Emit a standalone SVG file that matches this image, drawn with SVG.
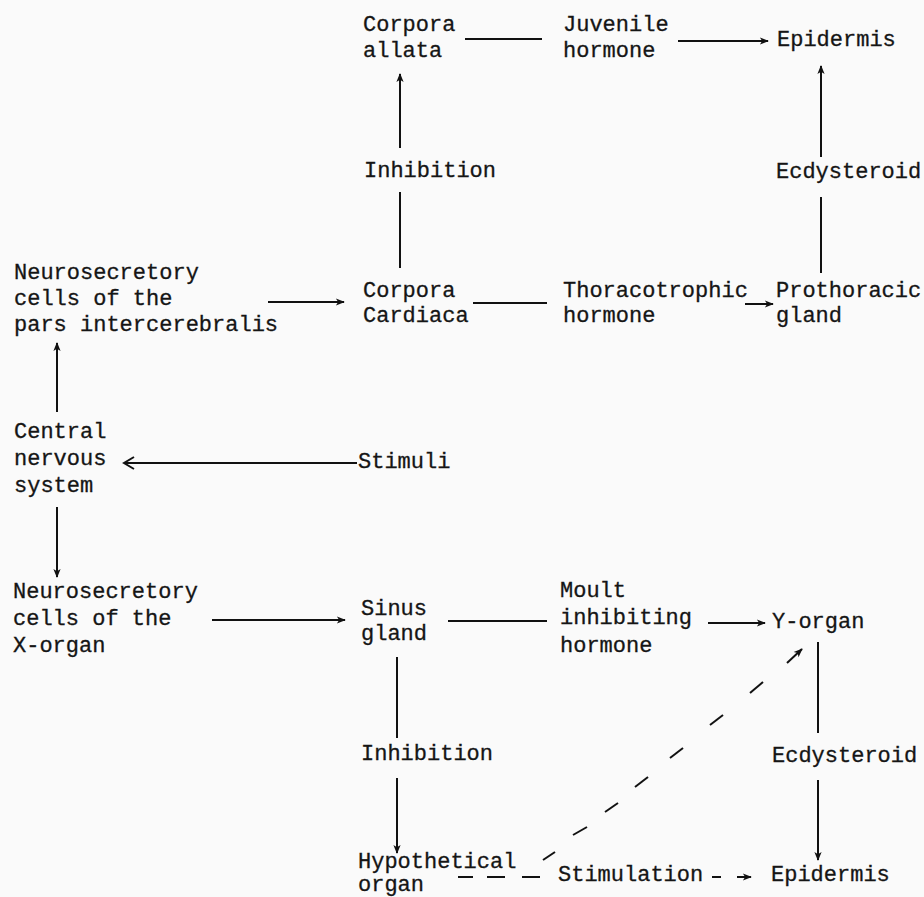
<svg xmlns="http://www.w3.org/2000/svg" width="924" height="897" viewBox="0 0 924 897">
<defs>
<marker id="ah" viewBox="0 0 10 10" refX="9" refY="5" markerWidth="10" markerHeight="9" markerUnits="userSpaceOnUse" orient="auto">
<path d="M0,1 L10,5 L0,9 L2.5,5 Z" fill="#111"/>
</marker>
<marker id="open" viewBox="0 0 14 14" refX="12" refY="7" markerWidth="14" markerHeight="14" markerUnits="userSpaceOnUse" orient="auto">
<path d="M2,1 L12,7 L2,13" fill="none" stroke="#111" stroke-width="2"/>
</marker>
</defs>
<style>
text{font-family:"Liberation Mono","DejaVu Sans Mono",monospace;font-size:22px;fill:#151515;stroke:#151515;stroke-width:0.3}
.c line,.c path{stroke:#111;stroke-width:2;fill:none}
</style>
<rect width="924" height="897" fill="#fafafa"/>
<g id="corpora-allata"><text x="363" y="31">Corpora</text><text x="363" y="57">allata</text></g>
<g id="juvenile-hormone"><text x="563" y="31">Juvenile</text><text x="563" y="57">hormone</text></g>
<g id="epidermis-top"><text x="777" y="46">Epidermis</text></g>
<g id="inhibition-top"><text x="364" y="177">Inhibition</text></g>
<g id="ecdysteroid-top"><text x="776" y="178">Ecdysteroid</text></g>
<g id="neurosecretory-pi"><text x="14" y="279">Neurosecretory</text><text x="14" y="305">cells of the</text><text x="14" y="331">pars intercerebralis</text></g>
<g id="corpora-cardiaca"><text x="363" y="297">Corpora</text><text x="363" y="322">Cardiaca</text></g>
<g id="thoracotrophic-hormone"><text x="563" y="297">Thoracotrophic</text><text x="563" y="322">hormone</text></g>
<g id="prothoracic-gland"><text x="776" y="297">Prothoracic</text><text x="776" y="322">gland</text></g>
<g id="cns"><text x="14" y="438">Central</text><text x="14" y="465">nervous</text><text x="14" y="492">system</text></g>
<g id="stimuli"><text x="358" y="468">Stimuli</text></g>
<g id="neurosecretory-x"><text x="13" y="598">Neurosecretory</text><text x="13" y="625">cells of the</text><text x="13" y="652">X-organ</text></g>
<g id="sinus-gland"><text x="361" y="615">Sinus</text><text x="361" y="640">gland</text></g>
<g id="moult-inhibiting-hormone"><text x="560" y="597">Moult</text><text x="560" y="624">inhibiting</text><text x="560" y="652">hormone</text></g>
<g id="y-organ"><text x="772" y="628">Y-organ</text></g>
<g id="inhibition-bottom"><text x="361" y="760">Inhibition</text></g>
<g id="ecdysteroid-bottom"><text x="772" y="762">Ecdysteroid</text></g>
<g id="hypothetical-organ"><text x="358" y="868">Hypothetical</text><text x="358" y="891">organ</text></g>
<g id="stimulation"><text x="558" y="881">Stimulation</text></g>
<g id="epidermis-bottom"><text x="771" y="881">Epidermis</text></g>
<g id="connectors" class="c">
<line x1="465" y1="39" x2="542" y2="39"/>
<line x1="678" y1="41" x2="768" y2="41" marker-end="url(#ah)"/>
<line x1="400" y1="268" x2="400" y2="192"/>
<line x1="400" y1="148" x2="400" y2="74" marker-end="url(#ah)"/>
<line x1="821" y1="273" x2="821" y2="197"/>
<line x1="821" y1="157" x2="821" y2="66" marker-end="url(#ah)"/>
<line x1="268" y1="302" x2="344" y2="302" marker-end="url(#ah)"/>
<line x1="473" y1="303" x2="547" y2="303"/>
<line x1="745" y1="304" x2="773" y2="304" marker-end="url(#ah)"/>
<line x1="57" y1="412" x2="57" y2="343" marker-end="url(#ah)"/>
<line x1="357" y1="463" x2="124" y2="463" marker-end="url(#open)"/>
<line x1="57" y1="507" x2="57" y2="577" marker-end="url(#ah)"/>
<line x1="212" y1="620" x2="345" y2="620" marker-end="url(#ah)"/>
<line x1="448" y1="621" x2="547" y2="621"/>
<line x1="708" y1="623" x2="765" y2="623" marker-end="url(#ah)"/>
<line x1="397" y1="657" x2="397" y2="738"/>
<line x1="397" y1="778" x2="397" y2="853" marker-end="url(#ah)"/>
<line x1="818" y1="642" x2="818" y2="733"/>
<line x1="818" y1="780" x2="818" y2="860" marker-end="url(#ah)"/>
<line x1="458" y1="877" x2="473" y2="877"/>
<line x1="487" y1="877" x2="505" y2="877"/>
<line x1="522" y1="877" x2="540" y2="877"/>
<line x1="712" y1="877" x2="721" y2="877"/>
<line x1="737" y1="877" x2="751" y2="877" marker-end="url(#ah)"/>
<line x1="543" y1="860" x2="555" y2="852"/>
<line x1="573" y1="835" x2="587" y2="827"/>
<line x1="605" y1="812" x2="618" y2="803"/>
<line x1="635" y1="787" x2="648" y2="777"/>
<line x1="670" y1="758" x2="683" y2="748"/>
<line x1="710" y1="725" x2="723" y2="715"/>
<line x1="750" y1="693" x2="763" y2="682"/>
<line x1="787" y1="663" x2="802" y2="649" marker-end="url(#ah)"/>
</g>
</svg>
